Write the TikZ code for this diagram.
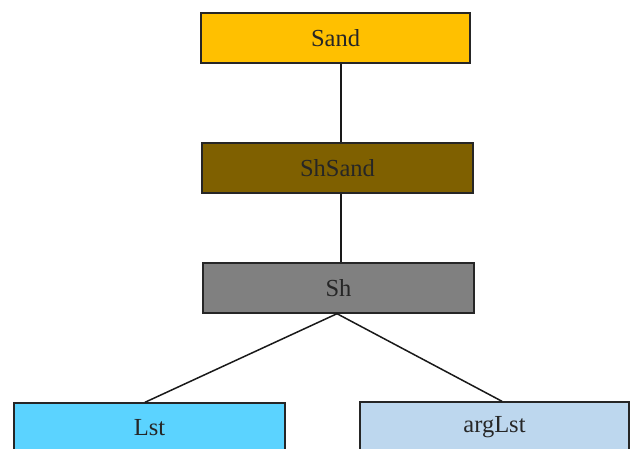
\documentclass[tikz,border=0pt]{standalone}
\usepackage{fontspec}
\setmainfont{Liberation Serif}
\begin{document}
\begin{tikzpicture}[x=1pt,y=-1pt,
  box/.style={draw=black!85, line width=1.4pt, minimum height=50pt, inner sep=0pt,
    font=\fontsize{24.5}{28}\selectfont, text=black!85},
  link/.style={draw=black!90, line width=1.5pt}]
\useasboundingbox (0,0) rectangle (630,449);
\definecolor{cSand}{HTML}{FFC000}
\definecolor{cShSand}{HTML}{7F6000}
\definecolor{cSh}{HTML}{808080}
\definecolor{cLst}{HTML}{5BD3FF}
\definecolor{cArg}{HTML}{BDD7EE}
\node[box, fill=cSand, minimum width=269pt] (sand) at (335.5,38) {Sand};
\node[box, fill=cShSand, minimum width=271pt] (shsand) at (337.5,168) {ShSand};
\node[box, fill=cSh, minimum width=271pt] (sh) at (338.5,288) {Sh};
\node[box, fill=cLst, minimum width=271pt] (lst) at (149.5,428) {Lst};
\node[box, fill=cArg, minimum width=269pt] (arg) at (494.5,427) {argLst};
\draw[link] ([xshift=5.5pt]sand.south) -- ([xshift=3.5pt]shsand.north);
\draw[link] ([xshift=3.5pt]shsand.south) -- ([xshift=2.5pt]sh.north);
\draw[link] ([xshift=-1.5pt]sh.south) -- ([xshift=-4.5pt]lst.north);
\draw[link] ([xshift=-1.5pt]sh.south) -- ([xshift=7.5pt]arg.north);
\end{tikzpicture}
\end{document}
